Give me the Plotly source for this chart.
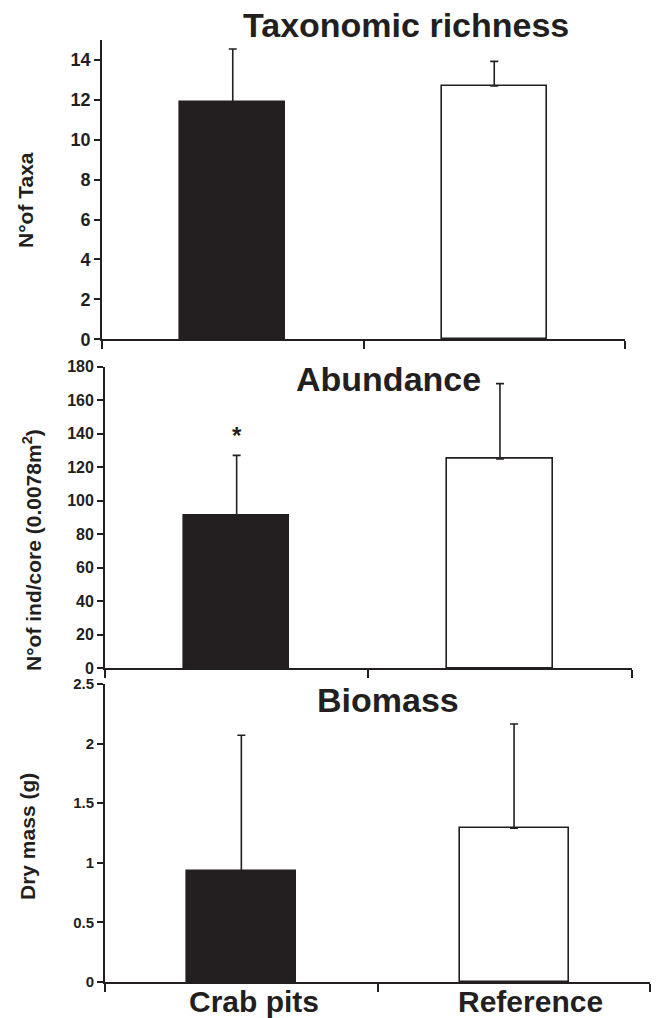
import plotly.graph_objects as go

# ---- data ----
categories = ["Crab pits", "Reference"]
richness_mean = [11.9, 12.7]
richness_err = [2.65, 1.23]
abundance_mean = [90.9, 124.9]
abundance_err = [36.2, 45.0]
biomass_mean = [0.93, 1.29]
biomass_err = [1.14, 0.875]
signif_marks = ["*", ""]
signif_level = [139, None]

panel_titles = ["Taxonomic richness", "Abundance", "Biomass"]
y_titles = ["N°of Taxa", "N°of ind/core (0.0078m<sup>2</sup>)", "Dry mass (g)"]

INK = "#231f20"
FONT = "Liberation Sans, Arial, sans-serif"
W, H = 656, 1018

def px(x):
    return x / W

def py(y):
    return 1 - y / H

fig = go.Figure()
xpos = list(range(len(categories)))
panels = [
    (richness_mean, richness_err, "x", "y"),
    (abundance_mean, abundance_err, "x2", "y2"),
    (biomass_mean, biomass_err, "x3", "y3"),
]
for mean, err, xa, ya in panels:
    fig.add_trace(go.Bar(
        x=xpos, y=mean, width=0.4, xaxis=xa, yaxis=ya,
        marker=dict(color=[INK, "white"], line=dict(color=INK, width=1.6)),
        error_y=dict(type="data", array=err, arrayminus=[0] * len(err),
                     symmetric=False, color=INK, thickness=1.6, width=4),
        showlegend=False, hoverinfo="skip",
    ))

xdomains = [[px(102), px(625)], [px(105), px(631.6)], [px(105), px(650.4)]]
ydomains = [[py(339.3), py(40)], [py(668.3), py(366.7)], [py(982), py(684)]]
yranges = [[0, 15], [0, 180], [0, 2.5]]
ydticks = [2, 20, 0.5]
tick_sizes = [18, 16, 15]

for i in range(3):
    sfx = "" if i == 0 else str(i + 1)
    fig.layout["xaxis" + sfx] = dict(
        domain=xdomains[i], range=[-0.5, 1.5], anchor="y" + sfx,
        tickvals=[-0.5, 0.5, 1.5], showticklabels=False, automargin=False,
        ticks="outside", ticklen=8, tickwidth=1.6, tickcolor=INK,
        showline=True, linecolor=INK, linewidth=1.8,
        showgrid=False, zeroline=False, fixedrange=True,
    )
    fig.layout["yaxis" + sfx] = dict(
        domain=ydomains[i], range=yranges[i], anchor="x" + sfx,
        dtick=ydticks[i], tick0=0, automargin=False,
        ticks="outside", ticklen=6, tickwidth=1.6, tickcolor=INK,
        showline=True, linecolor=INK, linewidth=1.8,
        showgrid=False, zeroline=False,
        tickfont=dict(family=FONT, size=tick_sizes[i], color=INK, weight="bold"),
    )

annotations = []
# panel titles
title_pos = [(406, 25), (388.5, 379), (387.6, 700)]
for t, (x, y) in zip(panel_titles, title_pos):
    annotations.append(dict(text=t, x=px(x), y=py(y), xref="paper", yref="paper",
                            showarrow=False, xanchor="center", yanchor="middle",
                            font=dict(family=FONT, size=34, color=INK, weight="bold")))
# y titles
ytitle_pos = [(25, 200), (32, 550), (27, 837)]
for t, (x, y) in zip(y_titles, ytitle_pos):
    annotations.append(dict(text=t, x=px(x), y=py(y), xref="paper", yref="paper",
                            showarrow=False, textangle=-90, xanchor="center", yanchor="middle",
                            font=dict(family=FONT, size=21, color=INK, weight="bold")))
# significance marks (abundance panel)
for xi, (m, lvl) in enumerate(zip(signif_marks, signif_level)):
    if m:
        annotations.append(dict(text=m, x=xi, y=lvl, xref="x2", yref="y2",
                                showarrow=False, xanchor="center", yanchor="middle",
                                font=dict(family=FONT, size=24, color=INK, weight="bold")))
# category labels under bottom panel
for xi, c in enumerate(categories):
    annotations.append(dict(text=c, x=xi, y=py(1001), xref="x3", yref="paper",
                            xshift=13 if xi == 0 else 16,
                            showarrow=False, xanchor="center", yanchor="middle",
                            font=dict(family=FONT, size=30, color=INK, weight="bold")))

fig.update_layout(
    template="none",
    width=W, height=H, margin=dict(l=0, r=0, t=0, b=0, pad=0),
    paper_bgcolor="white", plot_bgcolor="white",
    annotations=annotations, bargap=0, showlegend=False,
)
fig.write_html(
    "out.html",
    config={"displayModeBar": False},
    post_script="document.body.style.margin='0';document.body.style.overflow='hidden';",
)
